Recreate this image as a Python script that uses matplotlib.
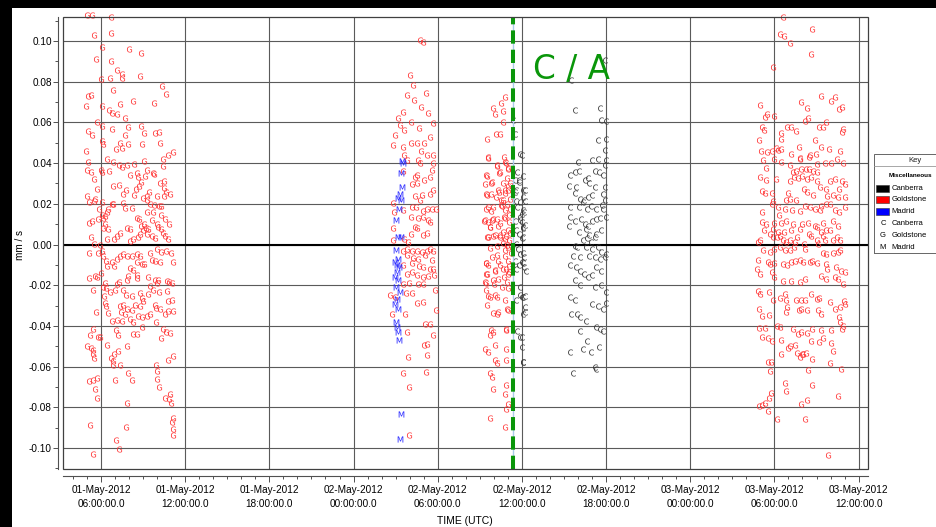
import datetime as dt
import matplotlib
matplotlib.use("Agg")
import matplotlib.pyplot as plt
import matplotlib.dates as mdates
from matplotlib.patches import Rectangle
from matplotlib.lines import Line2D
from matplotlib.ticker import MultipleLocator, FuncFormatter

plt.rcParams['font.family'] = ['Liberation Sans', 'DejaVu Sans']

# time in hours after 01-May-2012 00:00 UTC, residual in mm/s
gold_pass1 = [
    (4.98, 0.113), (5.33, 0.113), (6.69, 0.112), (5.52, 0.103), (6.71, 0.104),
    (6.10, 0.097), (8.02, 0.096), (8.85, 0.094), (5.64, 0.091), (6.71, 0.090),
    (7.16, 0.086), (7.47, 0.084), (7.47, 0.082), (5.98, 0.0815), (6.64, 0.082),
    (8.78, 0.083), (10.37, 0.078), (10.6, 0.074), (6.88, 0.076), (5.1, 0.073),
    (5.26, 0.0735), (4.93, 0.068), (6.05, 0.068), (7.35, 0.069), (8.3, 0.0707),
    (9.78, 0.0696), (6.6, 0.066), (6.76, 0.0646), (7.16, 0.0643), (7.7, 0.062),
    (5.74, 0.060), (6.1, 0.058), (6.76, 0.057), (7.95, 0.0576), (8.85, 0.058),
    (5.05, 0.056), (5.33, 0.054), (9.09, 0.055), (9.85, 0.0548), (10.1, 0.0553),
    (7.7, 0.054), (7.35, 0.050), (6.05, 0.051), (6.17, 0.0496), (8.95, 0.0496),
    (7.9, 0.0494), (10.2, 0.050), (7.07, 0.047), (7.47, 0.0475), (4.93, 0.046),
    (5.1, 0.0406), (6.4, 0.042), (6.83, 0.0406), (7.26, 0.039), (7.47, 0.038),
    (7.83, 0.039), (8.35, 0.0395), (9.06, 0.041), (10.44, 0.042), (10.75, 0.044),
    (11.1, 0.0455), (10.4, 0.0385), (4.98, 0.0365), (5.26, 0.0358), (6.0, 0.0368),
    (6.1, 0.0357), (6.6, 0.036), (9.25, 0.0368), (9.67, 0.0352), (9.8, 0.0349),
    (8.1, 0.034), (8.6, 0.0352), (8.64, 0.033), (9.1, 0.0335), (5.5, 0.032),
    (10.2, 0.030), (10.5, 0.0314), (8.83, 0.0306), (8.73, 0.029), (6.83, 0.029),
    (7.3, 0.0293), (5.74, 0.0275), (7.78, 0.027), (8.47, 0.0275), (9.44, 0.026),
    (10.5, 0.0277), (10.6, 0.026), (10.9, 0.025), (7.6, 0.0249), (8.38, 0.0242),
    (9.0, 0.023), (9.25, 0.0237), (9.3, 0.022), (10.0, 0.0237), (10.5, 0.0237),
    (5.0, 0.024), (5.17, 0.0208), (5.5, 0.0214), (5.57, 0.0224), (6.1, 0.0208),
    (6.76, 0.020), (6.88, 0.0198), (7.6, 0.0205), (9.5, 0.020), (9.8, 0.0196),
    (10.1, 0.019), (5.83, 0.0177), (6.5, 0.0175), (6.4, 0.016), (7.7, 0.018),
    (8.2, 0.018), (10.3, 0.0188), (6.1, 0.0147), (6.28, 0.0142), (6.17, 0.0128),
    (8.54, 0.0128), (8.73, 0.0123), (9.3, 0.0159), (9.73, 0.0162), (10.25, 0.0147),
    (10.56, 0.0126), (10.85, 0.0103), (5.15, 0.0106), (5.38, 0.0115), (5.76, 0.0123),
    (6.28, 0.0103), (6.47, 0.0077), (6.17, 0.0082), (7.83, 0.0082), (8.06, 0.0074),
    (8.83, 0.0093), (9.06, 0.0103), (9.2, 0.0082), (9.37, 0.0074), (9.0, 0.0069),
    (9.6, 0.012), (9.96, 0.0103), (10.08, 0.0085), (10.3, 0.0074), (10.44, 0.0057),
    (5.26, 0.0038), (5.52, 0.0003), (5.93, 0.0), (6.4, 0.0025), (6.93, 0.0028),
    (7.16, 0.004), (7.35, 0.0057), (8.06, 0.0016), (8.3, 0.0025), (8.66, 0.0038),
    (8.78, 0.005), (9.25, 0.005), (9.6, 0.0044), (9.85, 0.0033), (10.56, 0.0044),
    (10.8, 0.0025), (5.15, -0.0044), (5.8, -0.0044), (6.05, -0.0033), (6.17, -0.0054),
    (7.35, -0.0054), (7.6, -0.0049), (7.88, -0.0057), (8.2, -0.0054), (8.54, -0.0049),
    (8.78, -0.0054), (9.5, -0.0041), (10.0, -0.0021), (10.25, -0.0038), (10.63, -0.0033),
    (10.96, -0.0044), (6.33, -0.0079), (6.4, -0.0106), (6.76, -0.0085), (6.93, -0.0106),
    (7.16, -0.007), (8.06, -0.0115), (8.25, -0.0126), (8.54, -0.0087), (8.9, -0.0095),
    (9.06, -0.0098), (9.6, -0.0074), (9.85, -0.0082), (10.2, -0.0087), (11.1, -0.0087),
    (5.17, -0.0164), (5.57, -0.0155), (5.74, -0.0159), (6.0, -0.0142), (6.28, -0.0191),
    (7.12, -0.0196), (7.3, -0.0185), (7.83, -0.0172), (7.95, -0.0155), (8.54, -0.0152),
    (8.6, -0.0164), (9.37, -0.0159), (9.85, -0.0172), (9.96, -0.0191), (10.08, -0.0172),
    (10.68, -0.018), (10.87, -0.0185), (11.04, -0.0188), (5.4, -0.0221), (6.17, -0.0208),
    (6.35, -0.0216), (6.64, -0.0234), (7.0, -0.0224), (7.6, -0.0221), (7.78, -0.0247),
    (8.2, -0.0254), (8.78, -0.0237), (8.9, -0.0262), (9.37, -0.0241), (9.5, -0.0205),
    (9.73, -0.0221), (10.13, -0.0234), (10.68, -0.0229), (10.8, -0.0278), (11.04, -0.0275),
    (6.2, -0.0254), (6.28, -0.0286), (6.35, -0.030), (7.35, -0.030), (7.6, -0.0295),
    (7.88, -0.0319), (8.2, -0.0324), (8.42, -0.0295), (8.78, -0.0303), (9.02, -0.0278),
    (9.85, -0.0295), (9.92, -0.0311), (10.2, -0.0319), (10.56, -0.0339), (10.8, -0.0327),
    (11.1, -0.0327), (5.64, -0.0332), (6.47, -0.0336), (7.4, -0.0332), (7.7, -0.034),
    (8.06, -0.0368), (8.3, -0.0381), (8.66, -0.0349), (8.9, -0.0355), (9.25, -0.0349),
    (9.5, -0.0339), (9.92, -0.0381), (6.76, -0.0376), (7.16, -0.0371), (7.47, -0.0376),
    (5.45, -0.0417), (5.22, -0.0447), (7.07, -0.042), (7.23, -0.0447), (8.3, -0.0439),
    (8.6, -0.0439), (8.9, -0.0404), (10.4, -0.0417), (10.6, -0.0429), (10.9, -0.0434),
    (10.3, -0.0458), (5.8, -0.0455), (5.93, -0.0455), (4.98, -0.0499), (5.26, -0.0509),
    (5.4, -0.0519), (5.5, -0.0556), (5.4, -0.054), (6.4, -0.0493), (7.23, -0.0524),
    (6.93, -0.054), (6.69, -0.0556), (6.83, -0.057), (6.88, -0.0592), (7.88, -0.0499),
    (7.35, -0.0592), (9.92, -0.0594), (9.96, -0.062), (10.0, -0.066), (10.15, -0.0699),
    (10.8, -0.0568), (11.1, -0.0548), (7.95, -0.0633), (8.2, -0.0666), (5.17, -0.0671),
    (5.45, -0.0668), (5.7, -0.0658), (5.57, -0.0712), (5.7, -0.0756), (7.0, -0.0666),
    (7.83, -0.0777), (10.56, -0.0753), (10.9, -0.0736), (10.85, -0.0758), (10.96, -0.0777),
    (5.22, -0.0889), (7.76, -0.0897), (11.15, -0.0851), (11.04, -0.0872), (11.15, -0.0905),
    (11.1, -0.0936), (7.07, -0.0962), (7.3, -0.1007), (5.4, -0.1028),
]

gold_pass2 = [
    (28.74, 0.1005), (28.95, 0.0995), (28.02, 0.0833), (27.81, 0.0735), (28.31, 0.071),
    (28.8, 0.0676), (27.52, 0.0651), (27.17, 0.0622), (29.3, 0.0646), (28.1, 0.0602),
    (28.67, 0.0572), (29.66, 0.0597), (27.6, 0.0563), (29.45, 0.0528), (26.95, 0.0538),
    (29.16, 0.0744), (28.24, 0.0784), (27.31, 0.0587),
    (26.83, 0.049), (27.5, 0.048), (28.06, 0.050), (28.49, 0.050), (29.04, 0.050),
    (28.78, 0.046), (29.26, 0.044), (29.68, 0.044), (27.59, 0.044), (27.78, 0.0415),
    (28.61, 0.0415), (28.73, 0.040), (29.63, 0.040), (29.56, 0.0366), (27.54, 0.036),
    (28.49, 0.0344), (28.37, 0.033), (28.2, 0.0297), (29.0, 0.0316), (29.44, 0.033),
    (28.49, 0.030), (28.85, 0.0241), (28.73, 0.022), (29.44, 0.025), (29.63, 0.0267),
    (28.37, 0.0238), (28.2, 0.0185), (26.83, 0.0205), (26.88, 0.016), (27.54, 0.0169),
    (28.42, 0.0185), (28.92, 0.0166), (29.21, 0.0177), (29.56, 0.0177), (29.87, 0.0177),
    (28.1, 0.0136), (28.56, 0.0128), (28.97, 0.0136), (29.33, 0.012), (29.44, 0.0111),
    (26.78, 0.0079), (28.37, 0.0084), (28.54, 0.0079), (28.1, 0.0054), (28.92, 0.0049),
    (29.26, 0.0057), (26.78, 0.0021), (27.59, 0.0025), (27.9, 0.0013),
    (27.5, -0.003), (27.78, -0.002), (28.14, -0.003), (28.49, -0.003), (28.85, -0.0036),
    (29.21, -0.003), (29.44, -0.002), (29.68, -0.003), (27.78, -0.0052), (28.26, -0.0064),
    (28.61, -0.0069), (29.09, -0.0052), (29.56, -0.0074), (27.54, -0.0102), (28.14, -0.0093),
    (28.68, -0.0107), (28.97, -0.011), (29.44, -0.0118), (29.68, -0.0118), (27.78, -0.0143),
    (28.14, -0.0134), (28.49, -0.0151), (28.97, -0.0159), (29.33, -0.0156), (29.73, -0.0151),
    (27.54, -0.0192), (27.97, -0.0189), (28.61, -0.0195), (28.97, -0.0192), (29.8, -0.0225),
    (27.73, -0.0238), (28.14, -0.0238), (26.59, -0.0249), (26.95, -0.0257), (28.54, -0.0287),
    (28.92, -0.0282), (26.71, -0.0343), (27.66, -0.0339), (29.87, -0.0323), (27.78, -0.043),
    (29.09, -0.0389), (29.44, -0.0392), (29.63, -0.0446), (29.0, -0.0495), (29.21, -0.0487),
    (27.9, -0.0552), (29.21, -0.0544), (27.54, -0.0631), (29.16, -0.0626), (27.97, -0.070),
    (27.97, -0.0938),
]

madrid_pass2 = [
    (27.43, 0.041), (27.5, 0.040), (27.36, 0.035), (27.43, 0.0284), (27.31, 0.025),
    (27.19, 0.023), (27.36, 0.0218), (27.26, 0.0177), (27.0, 0.012), (27.2, 0.0038),
    (27.35, 0.0038), (27.02, -0.0028), (27.19, -0.0069), (26.95, -0.0085), (27.07, -0.0102),
    (27.26, -0.011), (27.12, -0.0134), (26.95, -0.0159), (27.19, -0.0175), (27.02, -0.0208),
    (27.31, -0.0233), (27.07, -0.0266), (26.95, -0.029), (27.19, -0.0316), (27.02, -0.038),
    (27.12, -0.0405), (27.19, -0.043), (27.26, -0.047), (27.36, -0.0831), (27.31, -0.0954),
]

gold_pass3 = [
    (34.8, 0.0725), (33.94, 0.067), (34.48, 0.0695), (34.08, 0.0643), (34.63, 0.0656),
    (34.66, 0.0602), (34.43, 0.0544), (33.48, 0.052), (34.14, 0.0544), (33.6, 0.0426),
    (34.71, 0.043), (34.78, 0.0405), (34.19, 0.0389), (33.53, 0.0339), (34.43, 0.0356),
    (35.03, 0.0372), (33.59, 0.043), (34.19, 0.0385), (34.85, 0.040), (35.0, 0.0374),
    (33.47, 0.0344), (34.37, 0.0352), (33.83, 0.0303), (34.66, 0.030), (34.97, 0.0325),
    (35.14, 0.030), (33.42, 0.025), (33.83, 0.025), (34.37, 0.0259), (34.78, 0.0254),
    (35.0, 0.0267), (34.66, 0.0218), (33.59, 0.0185), (33.83, 0.0164), (34.54, 0.0193),
    (34.78, 0.0169), (35.14, 0.0177), (33.35, 0.012), (33.59, 0.0111), (33.9, 0.012),
    (34.19, 0.0123), (34.47, 0.0107), (34.78, 0.0128), (35.09, 0.0111), (33.59, 0.0038),
    (34.07, 0.0046), (34.42, 0.0038), (34.9, 0.0041), (35.14, 0.0057), (33.71, 0.0087),
    (33.71, -0.0015), (34.19, -0.0052), (34.78, -0.0028), (35.0, -0.0011), (35.19, -0.0044),
    (33.42, -0.0093), (33.59, -0.0102), (34.07, -0.0126), (34.42, -0.0102), (34.85, -0.0118),
    (35.09, -0.0107), (33.42, -0.0189), (33.95, -0.0175), (34.31, -0.0167), (34.71, -0.0159),
    (35.0, -0.0143), (33.42, -0.0143), (33.47, -0.0225), (34.07, -0.0249), (35.0, -0.0216),
    (33.71, -0.0257), (33.52, -0.0298), (33.95, -0.0336), (34.19, -0.0339), (35.0, -0.0323),
    (33.83, -0.0421), (33.95, -0.043), (34.85, -0.0413), (34.9, -0.0421), (33.71, -0.0446),
    (34.07, -0.0495), (33.35, -0.0511), (33.59, -0.0528), (34.85, -0.0511), (34.07, -0.0569),
    (34.19, -0.0582), (34.85, -0.0569), (33.71, -0.0631), (33.9, -0.0651), (34.9, -0.0692),
    (33.95, -0.0708), (34.78, -0.0733), (35.0, -0.0782), (34.85, -0.0807), (33.71, -0.0851),
    (34.78, -0.0897),
    (33.36, 0.0298), (33.84, 0.0307), (34.31, 0.0269), (34.79, 0.0266), (35.03, 0.029),
    (33.48, 0.0241), (34.15, 0.0233), (34.48, 0.022), (35.15, 0.0225), (33.43, 0.0175),
    (33.96, 0.0184), (34.55, 0.0187), (34.96, 0.020), (33.29, 0.0118), (33.91, 0.0126),
    (34.72, 0.0134), (35.1, 0.0143), (33.72, 0.0085), (34.31, 0.0089), (34.67, 0.0061),
    (35.03, 0.0069), (33.48, 0.0036), (33.96, 0.0044), (34.43, 0.0049), (34.79, 0.0028),
    (35.1, 0.002), (34.2, -0.0005), (34.62, 0.0007), (34.91, 0.0), (33.43, -0.0092),
    (33.84, -0.0062), (34.31, -0.0079), (34.79, -0.0054), (35.03, -0.0079), (33.48, -0.0144),
    (34.08, -0.0128), (34.67, -0.012), (35.1, -0.0136), (33.36, -0.0185), (34.0, -0.0193),
    (34.55, -0.021), (34.96, -0.0185), (33.6, -0.0251), (34.2, -0.0259), (34.79, -0.0275),
    (34.31, -0.0333), (34.91, -0.0316),
]

canb_pass3 = [
    (35.98, 0.0439), (35.81, 0.0308), (36.1, 0.0267), (35.86, 0.021), (36.14, 0.0161),
    (35.86, 0.012), (36.1, 0.0087), (35.98, 0.003), (36.1, -0.0044), (36.05, -0.0093),
    (36.14, -0.011), (35.86, -0.0249), (36.1, -0.0257), (36.21, -0.0331), (35.98, -0.0454),
    (36.05, -0.0577), (35.5, 0.0544), (35.9, 0.0446), (35.8, 0.0315), (36.2, 0.0266),
    (36.1, 0.0233), (35.6, 0.0216), (36.1, 0.0169), (35.86, 0.0134), (35.98, 0.011),
    (36.1, 0.0079), (35.8, 0.0052), (35.6, 0.0003), (35.86, -0.0046), (35.98, -0.0085),
    (35.6, -0.012), (36.2, -0.0251), (35.98, -0.0259), (36.2, -0.0308), (35.86, -0.0456),
    (35.98, -0.0505), (36.05, -0.0579), (35.5, 0.0315), (35.57, 0.0266), (35.4, 0.061),
    (35.67, 0.0356), (36.05, 0.0339), (35.5, 0.0257), (36.23, 0.0216), (35.67, 0.0184),
    (35.98, 0.0151), (35.5, 0.0118), (36.2, 0.0098), (35.6, 0.0069), (36.05, 0.0036),
    (35.74, -0.0021), (36.14, -0.0062), (35.5, -0.0079), (35.81, -0.0103), (36.28, -0.0128),
    (35.86, -0.021), (35.57, -0.0275), (36.1, -0.0341), (35.67, -0.0423),
]

canb_pass4 = [
    (39.47, 0.0808), (41.92, 0.0906), (39.77, 0.0659), (41.6, 0.0672), (41.67, 0.061),
    (41.98, 0.0607), (41.44, 0.0515), (41.98, 0.052), (41.91, 0.0466), (40.0, 0.0405),
    (41.0, 0.0413), (41.44, 0.0421), (41.91, 0.0389), (41.98, 0.0413), (39.42, 0.0344),
    (39.77, 0.0356), (40.09, 0.036), (40.5, 0.0315), (40.7, 0.0328), (41.2, 0.036),
    (41.5, 0.0356), (41.8, 0.0344), (39.35, 0.029), (39.87, 0.0285), (40.8, 0.0302),
    (41.2, 0.0285), (41.9, 0.0282), (39.8, 0.0252), (40.14, 0.0225), (40.4, 0.022),
    (40.7, 0.0233), (41.0, 0.0241), (41.76, 0.0249), (41.9, 0.022), (39.4, 0.0184),
    (40.1, 0.0184), (40.35, 0.0208), (40.62, 0.0175), (40.95, 0.0187), (41.3, 0.0175),
    (41.7, 0.0192), (41.8, 0.0175), (39.4, 0.0134), (39.77, 0.0118), (40.24, 0.0126),
    (40.5, 0.0102), (40.7, 0.0093), (41.0, 0.0118), (41.3, 0.0126), (41.55, 0.0131),
    (41.98, 0.0134), (39.35, 0.0093), (40.1, 0.0061), (40.55, 0.0077), (40.8, 0.0049),
    (41.3, 0.0052), (41.67, 0.0069), (40.35, 0.002), (40.62, 0.0033), (40.95, 0.0011),
    (41.2, 0.0036), (39.77, -0.0005), (39.9, -0.0013), (40.6, -0.001), (41.0, -0.0021),
    (41.44, -0.0013), (41.67, -0.0038), (41.98, -0.0046), (39.65, -0.0054), (40.14, -0.0062),
    (40.8, -0.0054), (41.2, -0.0062), (41.55, -0.0069), (41.9, -0.0059), (39.4, -0.0103),
    (39.87, -0.0108), (40.14, -0.0128), (40.45, -0.0144), (40.7, -0.0161), (41.0, -0.0152),
    (41.3, -0.0111), (41.67, -0.0128), (39.77, -0.0175), (40.14, -0.020), (41.2, -0.021),
    (41.67, -0.020), (41.98, -0.0234), (39.42, -0.0259), (39.77, -0.0275), (41.0, -0.0292),
    (41.44, -0.030), (41.8, -0.0316), (41.98, -0.0288), (39.53, -0.0341), (39.9, -0.0341),
    (40.14, -0.0354), (40.55, -0.0374), (41.3, -0.0407), (41.55, -0.0415), (41.8, -0.0423),
    (40.14, -0.0423), (40.62, -0.0475), (40.35, -0.0513), (40.95, -0.0529), (39.42, -0.0529),
    (41.5, -0.0505), (41.2, -0.0603), (41.3, -0.0611), (39.65, -0.0633),
]

gold_pass5 = [
    (54.62, 0.1116), (56.69, 0.1059), (54.39, 0.1034), (54.7, 0.1026), (55.1, 0.099),
    (56.6, 0.0936), (53.91, 0.0871),
    (57.35, 0.0732), (58.3, 0.0727), (58.06, 0.0704), (58.6, 0.0666), (58.83, 0.0678),
    (52.96, 0.0687), (53.5, 0.0642), (53.3, 0.0628), (53.98, 0.0633), (55.88, 0.0702),
    (56.29, 0.0669), (56.17, 0.0606), (56.4, 0.0622), (57.17, 0.0576), (57.43, 0.0576),
    (57.71, 0.0601), (58.88, 0.0568), (58.83, 0.0552), (53.08, 0.0576), (53.27, 0.0563),
    (54.45, 0.0547), (54.5, 0.0519), (54.93, 0.0576), (55.17, 0.0576), (55.52, 0.0556),
    (56.88, 0.0516), (52.91, 0.0516), (53.03, 0.0458), (53.5, 0.0453), (53.86, 0.0458),
    (54.1, 0.0475), (54.27, 0.0465), (54.5, 0.047), (55.2, 0.0445), (55.76, 0.0478),
    (55.81, 0.0421), (56.52, 0.044), (56.93, 0.0445), (57.35, 0.0478), (57.9, 0.047),
    (58.66, 0.0462), (53.2, 0.0417), (54.0, 0.0421), (54.45, 0.0404), (55.09, 0.0393),
    (55.8, 0.0426), (57.6, 0.0399), (58.0, 0.0399), (58.43, 0.0421), (58.86, 0.0399),
    (57.0, 0.0396), (56.5, 0.0432), (53.4, 0.0375), (55.33, 0.0355), (55.52, 0.0363),
    (55.92, 0.0372), (56.22, 0.0372), (56.46, 0.0372), (56.76, 0.0363), (57.0, 0.0355),
    (52.96, 0.0331), (53.43, 0.0319), (54.1, 0.0322), (55.09, 0.0311), (55.38, 0.0334),
    (55.69, 0.0327), (56.0, 0.0339), (56.29, 0.0322), (56.64, 0.0331), (57.0, 0.0314),
    (57.95, 0.0314), (58.3, 0.0322), (58.8, 0.0311), (59.03, 0.0295), (53.08, 0.0262),
    (53.3, 0.0252), (53.86, 0.0252), (54.98, 0.0252), (55.57, 0.0219), (56.1, 0.0273),
    (56.34, 0.0257), (56.76, 0.0241), (57.23, 0.0281), (57.66, 0.0273), (57.76, 0.0236),
    (58.18, 0.0241), (58.6, 0.0273), (59.0, 0.0232), (58.5, 0.0232), (54.8, 0.0219),
    (55.09, 0.0224), (53.91, 0.0216), (53.15, 0.0159), (53.86, 0.020), (54.27, 0.0183),
    (54.76, 0.0175), (55.24, 0.017), (55.81, 0.0167), (56.17, 0.0191), (56.52, 0.0183),
    (56.88, 0.0175), (57.23, 0.017), (57.35, 0.0187), (57.66, 0.020), (57.95, 0.020),
    (58.3, 0.017), (58.6, 0.0159), (59.0, 0.0183), (54.33, 0.0147), (53.15, 0.0113),
    (53.43, 0.0101), (53.96, 0.0105), (54.5, 0.0105), (54.86, 0.0115), (55.33, 0.0101),
    (55.81, 0.0077), (56.0, 0.0101), (56.4, 0.0106), (56.88, 0.0093), (57.05, 0.0088),
    (57.43, 0.0105), (57.71, 0.0069), (57.95, 0.0069), (58.18, 0.0118), (58.55, 0.0093),
    (53.25, 0.0072), (53.91, 0.0077), (54.27, 0.0061), (54.67, 0.0061), (55.2, 0.0069),
    (52.84, 0.0011), (53.0, 0.0023), (53.67, 0.0052), (53.91, 0.0039), (54.15, 0.0036),
    (54.38, 0.0044), (54.62, 0.002), (54.81, 0.0011), (55.09, 0.002), (55.45, 0.0011),
    (55.6, 0.0036), (56.1, 0.0003), (56.46, 0.0052), (56.64, 0.0044), (57.0, 0.002),
    (57.3, 0.006), (57.6, 0.002), (58.18, 0.002), (58.43, 0.0036), (58.7, 0.0023),
    (57.43, 0.0044), (53.67, -0.0038), (54.0, -0.0021), (54.38, -0.001), (54.76, -0.0029),
    (55.09, -0.0026), (55.38, -0.001), (56.17, -0.0021), (57.1, 0.0003), (57.47, -0.0043),
    (57.71, -0.0046), (58.18, -0.0043), (58.55, -0.0038), (58.7, -0.0029), (53.2, -0.0029),
    (52.84, -0.0075), (53.55, -0.0087), (53.67, -0.0098), (54.0, -0.0092), (54.6, -0.0095),
    (54.93, -0.0103), (55.2, -0.0087), (55.45, -0.0079), (55.81, -0.0075), (56.05, -0.0087),
    (56.52, -0.0087), (56.7, -0.0082), (57.05, -0.0092), (57.66, -0.0098), (58.36, -0.0111),
    (58.76, -0.0128), (59.03, -0.0136), (57.76, -0.0119), (52.79, -0.0119), (53.0, -0.0144),
    (53.86, -0.0136), (54.0, -0.016), (54.62, -0.0177), (55.2, -0.0177), (55.81, -0.0185),
    (56.17, -0.0169), (57.35, -0.0157), (57.71, -0.0169), (58.3, -0.016), (58.55, -0.0169),
    (58.9, -0.0196), (52.86, -0.0226), (52.96, -0.0242), (53.62, -0.0234), (53.91, -0.0272),
    (54.38, -0.0262), (54.76, -0.0242), (54.86, -0.0275), (55.57, -0.0275), (55.92, -0.0275),
    (56.17, -0.0272), (56.64, -0.0242), (57.05, -0.0267), (57.17, -0.0262), (57.95, -0.0283),
    (58.3, -0.0316), (58.66, -0.0308), (58.95, -0.0278), (59.03, -0.0291), (52.9, -0.0316),
    (53.08, -0.0352), (53.62, -0.0347), (54.93, -0.0308), (54.81, -0.0332), (55.76, -0.0324),
    (55.86, -0.0316), (56.34, -0.0321), (57.12, -0.0324), (57.3, -0.034), (58.6, -0.0357),
    (58.7, -0.0381), (58.9, -0.0398), (52.9, -0.0409), (53.3, -0.0411), (54.38, -0.0403),
    (55.33, -0.0414), (55.69, -0.0442), (55.92, -0.043), (56.34, -0.0435), (56.7, -0.0414),
    (57.35, -0.0419), (58.06, -0.0422), (58.83, -0.0414), (54.2, -0.0398), (53.15, -0.0452),
    (53.55, -0.0458), (53.86, -0.0475), (54.5, -0.0468), (55.14, -0.050), (54.98, -0.0507),
    (55.5, -0.0496), (56.05, -0.0537), (56.64, -0.0475), (57.17, -0.048), (57.47, -0.0458),
    (58.06, -0.0484), (58.2, -0.0521), (54.5, -0.0537), (55.6, -0.0534), (55.8, -0.0553),
    (56.0, -0.0537), (56.22, -0.0534), (56.7, -0.0561), (57.95, -0.0583), (58.76, -0.061),
    (53.55, -0.0578), (53.79, -0.0578), (53.72, -0.0619), (56.4, -0.0615), (54.76, -0.068),
    (54.86, -0.0722), (56.7, -0.0692), (53.74, -0.073), (53.62, -0.0753), (53.3, -0.0779),
    (53.15, -0.079), (52.9, -0.0795), (53.55, -0.082), (55.86, -0.0786), (56.34, -0.0766),
    (58.5, -0.0746), (54.2, -0.0859), (56.17, -0.0859), (57.83, -0.1036),
]

ca_hour = 35.34
x_start, x_end = 3.29, 60.67
y_low, y_high = -0.1103, 0.1118

W, H = 936, 527
fig = plt.figure(figsize=(W / 100, H / 100), dpi=100)


def fx(px):
    return px / W


def fy(py):
    return 1 - py / H


ax = fig.add_axes([fx(63), fy(469), fx(868) - fx(63), fy(17) - fy(469)])
t0 = mdates.date2num(dt.datetime(2012, 5, 1))


def to_date(hours):
    return [t0 + h / 24.0 for h in hours]


series = [
    (gold_pass1, 'G', '#ff3333'),
    (gold_pass2, 'G', '#ff3333'),
    (gold_pass3, 'G', '#ff3333'),
    (gold_pass5, 'G', '#ff3333'),
    (madrid_pass2, 'M', '#2626ff'),
    (canb_pass3, 'C', '#333333'),
    (canb_pass4, 'C', '#333333'),
]
for pts, letter, color in series:
    hs, vs = zip(*pts)
    ax.plot(to_date(hs), vs, ls='none', marker=r'$\mathrm{%s}$' % letter,
            ms=4.4, mew=0, color=color, clip_on=False, zorder=3)

ax.axhline(0, color='black', lw=1.5, zorder=2)
ax.axvline(t0 + ca_hour / 24, color='#a9c9ea', lw=1.0, zorder=4)
ax.axvline(t0 + ca_hour / 24, color='#0a960a', lw=2.9, dashes=(3.3, 1.5), zorder=5)

ax.set_xlim(t0 + x_start / 24, t0 + x_end / 24)
ax.set_ylim(y_low, y_high)

ax.xaxis.set_major_locator(mdates.HourLocator(byhour=[0, 6, 12, 18]))
ax.xaxis.set_minor_locator(mdates.HourLocator())
ax.xaxis.set_major_formatter(mdates.DateFormatter('%d-%b-%Y\n%H:%M:%S.0'))
ax.yaxis.set_major_locator(MultipleLocator(0.02))
ax.yaxis.set_minor_locator(MultipleLocator(0.01))
ax.yaxis.set_major_formatter(FuncFormatter(lambda v, p: '%.2f' % (0.0 if abs(v) < 1e-9 else v)))

ax.grid(True, which='major', color='#5a5a5a', lw=0.8, zorder=1)
ax.set_axisbelow(True)

for side in ['top', 'right']:
    ax.spines[side].set_visible(False)
ax.spines['left'].set_position(('outward', 3.6))
ax.spines['bottom'].set_position(('outward', 5.0))
for side in ['left', 'bottom']:
    ax.spines[side].set_color('#505050')
    ax.spines[side].set_linewidth(0.8)
ax.add_patch(Rectangle((0, 0), 1, 1, transform=ax.transAxes, fill=False,
                       ec='#404040', lw=0.9, clip_on=False, zorder=6))

ax.tick_params(axis='x', which='major', length=4.3, width=0.7, color='#505050',
               labelsize=7.2, pad=2.5)
ax.tick_params(axis='x', which='minor', length=2.2, width=0.7, color='#505050')
ax.tick_params(axis='y', which='major', length=3.6, width=0.7, color='#505050',
               labelsize=7.2, pad=0.8)
ax.tick_params(axis='y', which='minor', length=2.2, width=0.7, color='#505050')

fig.canvas.draw()
for lab in ax.get_xticklabels():
    lab.set_linespacing(1.45)

fig.text(fx(20), fy(245), 'mm / s', rotation=90, ha='center', va='center', fontsize=7.2)
fig.text(fx(465), fy(521), 'TIME (UTC)', ha='center', va='center', fontsize=7.5)
fig.text(fx(533), fy(79), 'C / A', color='#0a960a', fontsize=23.5,
         family='DejaVu Sans', ha='left', va='baseline')

# black frame strips
fig.patches.append(Rectangle((0, 0), fx(11.5), 1, transform=fig.transFigure,
                             fc='black', ec='none', zorder=0))
fig.patches.append(Rectangle((0, fy(8)), 1, 8 / H, transform=fig.transFigure,
                             fc='black', ec='none', zorder=0))

# key box on the right
fig.patches.append(Rectangle((fx(874), fy(253)), 80 / W, 99 / H, transform=fig.transFigure,
                             fill=False, ec='#666666', lw=0.7))
fig.lines.append(Line2D([fx(874), fx(940)], [fy(166), fy(166)], transform=fig.transFigure,
                        color='#999999', lw=0.6))
fig.text(fx(915), fy(161), 'Key', fontsize=5.5, ha='center', va='center', color='#222222')
fig.text(fx(889), fy(175.5), 'Miscellaneous', fontsize=4.6, weight='bold',
         ha='left', va='center')
swatches = [('Canberra', 'black', 188), ('Goldstone', '#ff0000', 199.5), ('Madrid', '#0000ff', 211.5)]
for name, col, py in swatches:
    fig.patches.append(Rectangle((fx(876), fy(py + 3.5)), 13 / W, 7 / H,
                                 transform=fig.transFigure, fc=col, ec='#333333', lw=0.4))
    fig.text(fx(891.5), fy(py), name, fontsize=5.5, ha='left', va='center')
letters = [('C', 'Canberra', 223.5), ('G', 'Goldstone', 236), ('M', 'Madrid', 247.5)]
for let, name, py in letters:
    fig.text(fx(883), fy(py), let, fontsize=5.5, ha='center', va='center')
    fig.text(fx(891.5), fy(py), name, fontsize=5.5, ha='left', va='center')

fig.savefig('out.png', dpi=100, facecolor='white')
